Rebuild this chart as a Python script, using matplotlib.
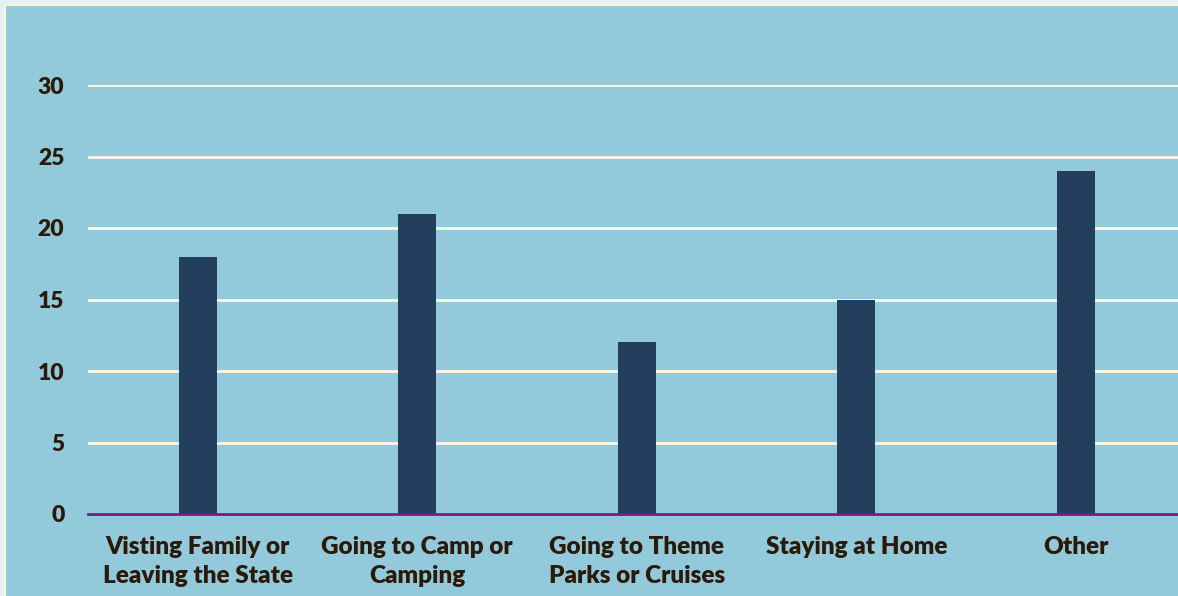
import matplotlib.pyplot as plt
from matplotlib.patches import Rectangle

categories = [
    "Visting Family or\nLeaving the State",
    "Going to Camp or\nCamping",
    "Going to Theme\nParks or Cruises",
    "Staying at Home",
    "Other",
]
values = [18, 21, 12, 15, 24]
yticks = [0, 5, 10, 15, 20, 25, 30]

panel = "#92CADB"
text_color = "#2B1A0A"

fig = plt.figure(figsize=(11.78, 5.96), dpi=100, facecolor="#E2F1F5")
# panel background with a thin cream border on top/left
fig.patches.append(Rectangle((5 / 1178, -0.01), 1.0, 1 - 5 / 596 + 0.01,
                             transform=fig.transFigure, facecolor=panel,
                             edgecolor="#FBF6D8", linewidth=1.5, zorder=0))

ax = fig.add_axes([88 / 1178, 82 / 596, 1097.5 / 1178, 429 / 596])
ax.set_zorder(2)
ax.set_facecolor("none")
x = range(len(categories))
ax.bar(x, values, width=0.173, color="#243E5E", zorder=3)
ax.set_xlim(-0.5, len(categories) - 0.5)
ax.set_ylim(0, 30)
ax.set_yticks(yticks)
ax.grid(axis="y", color="#FBF8E4", linewidth=2, zorder=1)
ax.set_axisbelow(True)
for side in ["top", "right", "left"]:
    ax.spines[side].set_visible(False)
ax.spines["bottom"].set_color("#7A1A80")
ax.spines["bottom"].set_linewidth(2)
ax.spines["bottom"].set_zorder(4)

ax.set_xticks(list(x))
ax.set_xticklabels(categories, fontsize=17.5, fontweight="heavy", color=text_color,
                   family="Lato", linespacing=1.38)
ax.tick_params(axis="x", length=0, pad=16)
ax.tick_params(axis="y", length=0, pad=17, labelsize=16.5, labelcolor=text_color)
for lbl in ax.get_yticklabels():
    lbl.set_fontweight("heavy")
    lbl.set_family("Lato")

fig.savefig("out.png", dpi=100, facecolor=fig.get_facecolor())
